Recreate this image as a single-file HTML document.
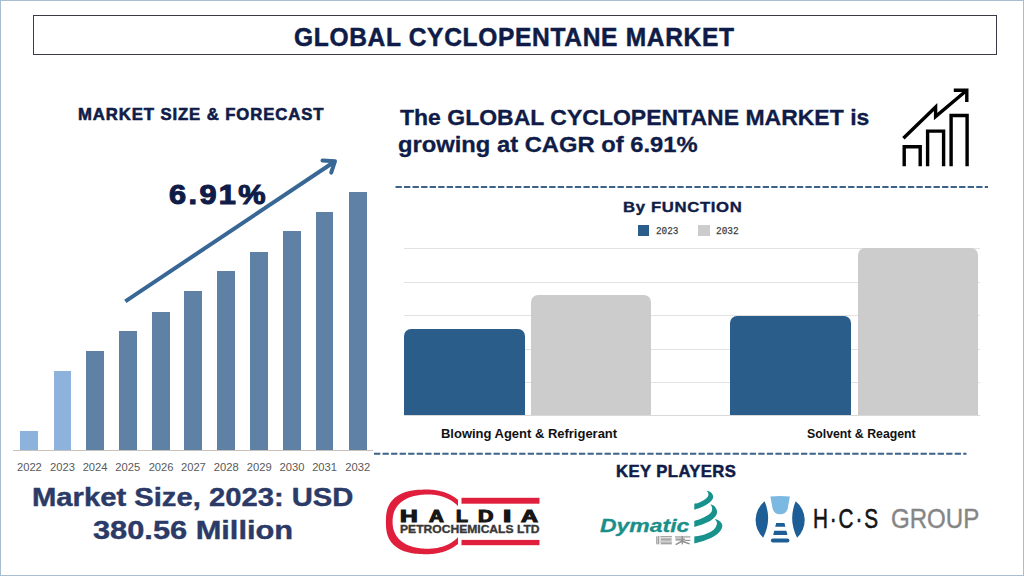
<!DOCTYPE html>
<html><head><meta charset="utf-8"><style>
html,body{margin:0;padding:0}
body{width:1024px;height:576px;position:relative;overflow:hidden;background:#fff;font-family:"Liberation Sans",sans-serif}
.frame{position:absolute;left:0;top:0;width:1022px;height:574px;border:1px solid #a9bdd0}
.tbox{position:absolute;left:33px;top:15px;width:962px;height:38px;border:1px solid #3a3b48}
.t{position:absolute;white-space:nowrap;transform-origin:0 0}
.bar{position:absolute}
.fbar{position:absolute;border-radius:7px 7px 0 0}
.yr{position:absolute;width:40px;text-align:center;font-size:11.2px;line-height:12px;color:#595959;font-family:"Liberation Sans",sans-serif}
.lg{position:absolute;font-family:"Liberation Mono",monospace;font-size:9px;line-height:12px;color:#444}
</style></head><body>
<div class="frame"></div>
<div class="tbox"></div>
<div class="bar" style="left:20.4px;top:430.8px;width:18.1px;height:19.7px;background:#8db3dc"></div>
<div class="bar" style="left:53.6px;top:370.9px;width:17.7px;height:79.6px;background:#8db3dc"></div>
<div class="bar" style="left:86.2px;top:350.9px;width:17.7px;height:99.6px;background:#5f81a6"></div>
<div class="bar" style="left:119.1px;top:331.2px;width:17.5px;height:119.3px;background:#5f81a6"></div>
<div class="bar" style="left:152.1px;top:311.5px;width:17.9px;height:139.0px;background:#5f81a6"></div>
<div class="bar" style="left:184.4px;top:291.1px;width:17.9px;height:159.4px;background:#5f81a6"></div>
<div class="bar" style="left:217.4px;top:271.4px;width:17.8px;height:179.1px;background:#5f81a6"></div>
<div class="bar" style="left:250.4px;top:251.9px;width:17.7px;height:198.6px;background:#5f81a6"></div>
<div class="bar" style="left:283.1px;top:231.4px;width:17.7px;height:219.1px;background:#5f81a6"></div>
<div class="bar" style="left:315.9px;top:211.7px;width:17.5px;height:238.8px;background:#5f81a6"></div>
<div class="bar" style="left:348.8px;top:191.7px;width:17.8px;height:258.8px;background:#5f81a6"></div>
<div style="position:absolute;left:13px;top:450px;width:360px;height:1px;background:#c9c2bc"></div>
<div class="yr" style="left:9.4px;top:461px;">2022</div>
<div class="yr" style="left:42.5px;top:461px;">2023</div>
<div class="yr" style="left:75.1px;top:461px;">2024</div>
<div class="yr" style="left:107.8px;top:461px;">2025</div>
<div class="yr" style="left:141.1px;top:461px;">2026</div>
<div class="yr" style="left:173.4px;top:461px;">2027</div>
<div class="yr" style="left:206.3px;top:461px;">2028</div>
<div class="yr" style="left:239.2px;top:461px;">2029</div>
<div class="yr" style="left:272.0px;top:461px;">2030</div>
<div class="yr" style="left:304.6px;top:461px;">2031</div>
<div class="yr" style="left:337.7px;top:461px;">2032</div>
<svg style="position:absolute;left:0;top:0" width="1024" height="576" viewBox="0 0 1024 576">
<g stroke="#386795" stroke-width="4" fill="none" stroke-linecap="butt" stroke-linejoin="miter">
<line x1="125.3" y1="301.4" x2="334" y2="162"/>
<polyline stroke-linecap="round" stroke-linejoin="round" points="322.5,160.6 335,161.2 331.2,172.6"/>
</g></svg>
<svg style="position:absolute;left:0;top:0" width="1024" height="576" viewBox="0 0 1024 576">
<g stroke="#000" stroke-width="3.4" fill="none" stroke-linejoin="miter">
<polyline points="904.2,166.3 904.2,146.7 920.2,146.7 920.2,166.3"/>
<polyline points="927.6,166.3 927.6,131.1 943.6,131.1 943.6,166.3"/>
<polyline points="951.1,166.3 951.1,115.5 967.1,115.5 967.1,166.3"/>
<polyline points="903.4,138.2 935.6,107 935.6,116.5 966.5,90.5"/>
<polyline points="953.8,90.2 966.8,90.2 966.8,102"/>
</g></svg>
<svg style="position:absolute;left:0;top:0" width="1024" height="576"><g stroke="#3d6289" stroke-width="2" stroke-dasharray="6.3 2.24"><line x1="395.5" y1="187" x2="988" y2="187"/><line x1="374" y1="453.8" x2="966.5" y2="453.8"/></g></svg>
<div style="position:absolute;left:403.6px;top:248.0px;width:576px;height:1px;background:#e2e2e2"></div>
<div style="position:absolute;left:403.6px;top:281.5px;width:576px;height:1px;background:#e2e2e2"></div>
<div style="position:absolute;left:403.6px;top:315.0px;width:576px;height:1px;background:#e2e2e2"></div>
<div style="position:absolute;left:403.6px;top:348.5px;width:576px;height:1px;background:#e2e2e2"></div>
<div style="position:absolute;left:403.6px;top:382.0px;width:576px;height:1px;background:#e2e2e2"></div>
<div style="position:absolute;left:403.6px;top:415px;width:576px;height:1px;background:#d9d9d9"></div>
<div class="fbar" style="left:403.7px;top:329.1px;width:121.1px;height:86.4px;background:#2b5d8b"></div>
<div class="fbar" style="left:531.3px;top:295.2px;width:120.2px;height:120.3px;background:#cccccc"></div>
<div class="fbar" style="left:730.4px;top:315.6px;width:120.6px;height:99.9px;background:#2b5d8b"></div>
<div class="fbar" style="left:858.0px;top:248.1px;width:120.3px;height:167.4px;background:#cccccc"></div>
<div style="position:absolute;left:638px;top:225px;width:11px;height:11px;background:#2b5d8b"></div>
<div style="position:absolute;left:698.3px;top:225px;width:11.3px;height:11px;background:#cccccc"></div>
<div id="t_title" class="t" style="left:294.22px;top:24.79px;font-family:'Liberation Sans';font-weight:700;font-style:normal;font-size:25px;line-height:25px;color:#101c48;transform:scaleX(0.9810);-webkit-text-stroke:0.5px #101c48;letter-spacing:0.7px;">GLOBAL CYCLOPENTANE MARKET</div>
<div id="t_msf" class="t" style="left:77.89px;top:106.05px;font-family:'Liberation Sans';font-weight:700;font-style:normal;font-size:16.5px;line-height:16.5px;color:#101c48;transform:scaleX(1.0116);-webkit-text-stroke:0.6px #101c48;letter-spacing:0.9px;">MARKET SIZE &amp; FORECAST</div>
<div id="t_cagr" class="t" style="left:169.10px;top:181.30px;font-family:'Liberation Sans';font-weight:700;font-style:normal;font-size:28px;line-height:28px;color:#101c48;transform:scaleX(1.0955);-webkit-text-stroke:1.1px #101c48;letter-spacing:2.2px;">6.91%</div>
<div id="t_ms1" class="t" style="left:32.25px;top:484.77px;font-family:'Liberation Sans';font-weight:700;font-style:normal;font-size:25.5px;line-height:25.5px;color:#2b3a67;transform:scaleX(1.1452);-webkit-text-stroke:0.4px #2b3a67;">Market Size, 2023: USD</div>
<div id="t_ms2" class="t" style="left:93.18px;top:518.21px;font-family:'Liberation Sans';font-weight:700;font-style:normal;font-size:25.2px;line-height:25.2px;color:#2b3a67;transform:scaleX(1.2216);-webkit-text-stroke:0.4px #2b3a67;">380.56 Million</div>
<div id="t_h1" class="t" style="left:399.60px;top:106.98px;font-family:'Liberation Sans';font-weight:700;font-style:normal;font-size:21.2px;line-height:21.2px;color:#101c48;transform:scaleX(1.0854);-webkit-text-stroke:0.3px #101c48;">The GLOBAL CYCLOPENTANE MARKET is</div>
<div id="t_h2" class="t" style="left:398.48px;top:134.38px;font-family:'Liberation Sans';font-weight:700;font-style:normal;font-size:21.2px;line-height:21.2px;color:#101c48;transform:scaleX(1.1214);-webkit-text-stroke:0.3px #101c48;">growing at CAGR of 6.91%</div>
<div id="t_byf" class="t" style="left:623.21px;top:199.39px;font-family:'Liberation Sans';font-weight:700;font-style:normal;font-size:15.4px;line-height:15.4px;color:#101c48;transform:scaleX(1.0852);-webkit-text-stroke:0.4px #101c48;letter-spacing:0.6px;">By FUNCTION</div>
<div id="t_kp" class="t" style="left:615.59px;top:462.90px;font-family:'Liberation Sans';font-weight:700;font-style:normal;font-size:16.5px;line-height:16.5px;color:#101c48;transform:scaleX(1.0111);-webkit-text-stroke:0.5px #101c48;letter-spacing:0.4px;">KEY PLAYERS</div>
<div id="t_lab1" class="t" style="left:440.96px;top:427.97px;font-family:'Liberation Sans';font-weight:700;font-style:normal;font-size:12.5px;line-height:12.5px;color:#111111;transform:scaleX(1.0379);">Blowing Agent &amp; Refrigerant</div>
<div id="t_lab2" class="t" style="left:806.72px;top:427.97px;font-family:'Liberation Sans';font-weight:700;font-style:normal;font-size:12.5px;line-height:12.5px;color:#111111;transform:scaleX(0.9844);">Solvent &amp; Reagent</div>
<div id="hal_H" class="t" style="left:399.59px;top:507.54px;font-family:'Liberation Sans';font-weight:700;font-style:normal;font-size:16.2px;line-height:16.2px;color:#161616;transform:scaleX(1.5100);-webkit-text-stroke:1.1px #161616;">H</div>
<div id="hal_A1" class="t" style="left:428.50px;top:507.54px;font-family:'Liberation Sans';font-weight:700;font-style:normal;font-size:16.2px;line-height:16.2px;color:#161616;transform:scaleX(1.2667);-webkit-text-stroke:1.1px #161616;">A</div>
<div id="hal_L" class="t" style="left:455.50px;top:507.54px;font-family:'Liberation Sans';font-weight:700;font-style:normal;font-size:16.2px;line-height:16.2px;color:#161616;transform:scaleX(1.2000);-webkit-text-stroke:1.1px #161616;">L</div>
<div id="hal_D" class="t" style="left:478.48px;top:507.54px;font-family:'Liberation Sans';font-weight:700;font-style:normal;font-size:16.2px;line-height:16.2px;color:#161616;transform:scaleX(1.3182);-webkit-text-stroke:1.1px #161616;">D</div>
<div id="hal_I" class="t" style="left:502.87px;top:507.54px;font-family:'Liberation Sans';font-weight:700;font-style:normal;font-size:16.2px;line-height:16.2px;color:#161616;transform:scaleX(1.8333);-webkit-text-stroke:1.1px #161616;">I</div>
<div id="hal_A2" class="t" style="left:521.00px;top:507.54px;font-family:'Liberation Sans';font-weight:700;font-style:normal;font-size:16.2px;line-height:16.2px;color:#161616;transform:scaleX(1.4500);-webkit-text-stroke:1.1px #161616;">A</div>
<div id="hal_pc" class="t" style="left:399.93px;top:523.70px;font-family:'Liberation Sans';font-weight:700;font-style:normal;font-size:11.3px;line-height:11.3px;color:#383838;transform:scaleX(1.0705);-webkit-text-stroke:0.35px #383838;">PETROCHEMICALS LTD</div>
<div id="dym" class="t" style="left:599.90px;top:515.97px;font-family:'Liberation Sans';font-weight:700;font-style:italic;font-size:19px;line-height:19px;color:#1a8f8a;transform:scaleX(1.2081);-webkit-text-stroke:0.3px #1a8f8a;">Dymatic</div>
<div id="hcs" class="t" style="left:813.22px;top:505.25px;font-family:'Liberation Sans';font-weight:400;font-style:normal;font-size:28px;line-height:28px;color:#141414;transform:scaleX(0.7400);-webkit-text-stroke:0.6px #141414;letter-spacing:2.5px;">H&#183;C&#183;S</div>
<div id="grp" class="t" style="left:891.44px;top:504.85px;font-family:'Liberation Sans';font-weight:400;font-style:normal;font-size:28px;line-height:28px;color:#858585;transform:scaleX(0.8600);-webkit-text-stroke:0.4px #858585;">GROUP</div>
<div id="lg1" class="t" style="left:655.75px;top:226.13px;font-family:'Liberation Mono';font-weight:400;font-style:normal;font-size:11px;line-height:11px;color:#3c3c3c;transform:scaleX(0.8520);-webkit-text-stroke:0.25px #3c3c3c;">2023</div>
<div id="lg2" class="t" style="left:716.24px;top:226.13px;font-family:'Liberation Mono';font-weight:400;font-style:normal;font-size:11px;line-height:11px;color:#3c3c3c;transform:scaleX(0.8600);-webkit-text-stroke:0.25px #3c3c3c;">2032</div>
<svg style="position:absolute;left:0;top:0" width="1024" height="576" viewBox="0 0 1024 576"><defs><clipPath id="hc"><rect x="380" y="480" width="78" height="80"/></clipPath></defs><path clip-path="url(#hc)" fill-rule="evenodd" fill="#e01f3c" d="M469.20,521.85 L469.17,523.12 L469.07,524.38 L468.91,525.65 L468.69,526.90 L468.40,528.15 L468.05,529.39 L467.64,530.62 L467.16,531.83 L466.63,533.03 L466.03,534.21 L465.38,535.37 L464.67,536.51 L463.90,537.63 L463.07,538.73 L462.19,539.79 L461.26,540.84 L460.27,541.85 L459.23,542.83 L458.15,543.78 L457.02,544.69 L455.84,545.57 L454.62,546.41 L453.35,547.22 L452.05,547.98 L450.71,548.71 L449.34,549.39 L447.93,550.03 L446.49,550.63 L445.02,551.18 L443.52,551.69 L442.00,552.15 L440.46,552.57 L438.89,552.94 L437.31,553.26 L435.72,553.53 L434.11,553.75 L432.49,553.93 L430.86,554.05 L429.23,554.13 L427.60,554.15 L424.14,554.13 L421.71,554.07 L419.57,553.98 L417.59,553.84 L415.74,553.67 L413.98,553.46 L412.31,553.21 L410.70,552.93 L409.16,552.60 L407.68,552.24 L406.26,551.84 L404.88,551.41 L403.56,550.93 L402.29,550.42 L401.07,549.88 L399.89,549.29 L398.76,548.67 L397.68,548.01 L396.65,547.32 L395.66,546.59 L394.72,545.83 L393.82,545.02 L392.97,544.19 L392.17,543.31 L391.42,542.40 L390.71,541.45 L390.05,540.47 L389.44,539.45 L388.88,538.38 L388.36,537.28 L387.90,536.13 L387.48,534.94 L387.11,533.70 L386.79,532.40 L386.52,531.04 L386.30,529.60 L386.12,528.07 L386.00,526.41 L385.92,524.53 L385.90,521.85 L385.92,519.17 L386.00,517.29 L386.12,515.63 L386.30,514.10 L386.52,512.66 L386.79,511.30 L387.11,510.00 L387.48,508.76 L387.90,507.57 L388.36,506.42 L388.88,505.32 L389.44,504.25 L390.05,503.23 L390.71,502.25 L391.42,501.30 L392.17,500.39 L392.97,499.51 L393.82,498.68 L394.72,497.87 L395.66,497.11 L396.65,496.38 L397.68,495.69 L398.76,495.03 L399.89,494.41 L401.07,493.82 L402.29,493.28 L403.56,492.77 L404.88,492.29 L406.26,491.86 L407.68,491.46 L409.16,491.10 L410.70,490.77 L412.31,490.49 L413.98,490.24 L415.74,490.03 L417.59,489.86 L419.57,489.72 L421.71,489.63 L424.14,489.57 L427.60,489.55 L429.23,489.57 L430.86,489.65 L432.49,489.77 L434.11,489.95 L435.72,490.17 L437.31,490.44 L438.89,490.76 L440.46,491.13 L442.00,491.55 L443.52,492.01 L445.02,492.52 L446.49,493.07 L447.93,493.67 L449.34,494.31 L450.71,494.99 L452.05,495.72 L453.35,496.48 L454.62,497.29 L455.84,498.13 L457.02,499.01 L458.15,499.92 L459.23,500.87 L460.27,501.85 L461.26,502.86 L462.19,503.91 L463.07,504.97 L463.90,506.07 L464.67,507.19 L465.38,508.33 L466.03,509.49 L466.63,510.67 L467.16,511.87 L467.64,513.08 L468.05,514.31 L468.40,515.55 L468.69,516.80 L468.91,518.05 L469.07,519.32 L469.17,520.58 Z M464.50,521.60 L464.47,522.66 L464.39,523.73 L464.25,524.79 L464.06,525.84 L463.81,526.89 L463.51,527.93 L463.15,528.96 L462.74,529.97 L462.27,530.98 L461.76,531.97 L461.19,532.95 L460.58,533.90 L459.91,534.84 L459.20,535.76 L458.43,536.66 L457.62,537.53 L456.77,538.38 L455.87,539.20 L454.94,540.00 L453.96,540.76 L452.94,541.50 L451.88,542.21 L450.79,542.88 L449.66,543.52 L448.50,544.13 L447.31,544.71 L446.09,545.24 L444.84,545.75 L443.57,546.21 L442.28,546.64 L440.96,547.02 L439.62,547.37 L438.27,547.68 L436.90,547.95 L435.52,548.18 L434.13,548.37 L432.73,548.51 L431.32,548.62 L429.91,548.68 L428.50,548.70 L426.35,548.68 L424.57,548.63 L422.92,548.54 L421.35,548.41 L419.83,548.25 L418.37,548.05 L416.95,547.81 L415.57,547.54 L414.23,547.24 L412.93,546.90 L411.66,546.52 L410.43,546.11 L409.24,545.67 L408.08,545.19 L406.97,544.68 L405.88,544.14 L404.84,543.56 L403.83,542.96 L402.87,542.32 L401.94,541.65 L401.05,540.95 L400.21,540.22 L399.40,539.46 L398.64,538.67 L397.92,537.86 L397.25,537.01 L396.62,536.14 L396.03,535.24 L395.49,534.31 L394.99,533.35 L394.54,532.37 L394.13,531.36 L393.77,530.32 L393.46,529.25 L393.20,528.14 L392.98,527.00 L392.82,525.81 L392.70,524.56 L392.62,523.22 L392.60,521.60 L392.62,519.98 L392.70,518.64 L392.82,517.39 L392.98,516.20 L393.20,515.06 L393.46,513.95 L393.77,512.88 L394.13,511.84 L394.54,510.83 L394.99,509.85 L395.49,508.89 L396.03,507.96 L396.62,507.06 L397.25,506.19 L397.92,505.34 L398.64,504.53 L399.40,503.74 L400.21,502.98 L401.05,502.25 L401.94,501.55 L402.87,500.88 L403.83,500.24 L404.84,499.64 L405.88,499.06 L406.97,498.52 L408.08,498.01 L409.24,497.53 L410.43,497.09 L411.66,496.68 L412.93,496.30 L414.23,495.96 L415.57,495.66 L416.95,495.39 L418.37,495.15 L419.83,494.95 L421.35,494.79 L422.92,494.66 L424.57,494.57 L426.35,494.52 L428.50,494.50 L429.91,494.52 L431.32,494.58 L432.73,494.69 L434.13,494.83 L435.52,495.02 L436.90,495.25 L438.27,495.52 L439.62,495.83 L440.96,496.18 L442.28,496.56 L443.57,496.99 L444.84,497.45 L446.09,497.96 L447.31,498.49 L448.50,499.07 L449.66,499.68 L450.79,500.32 L451.88,500.99 L452.94,501.70 L453.96,502.44 L454.94,503.20 L455.87,504.00 L456.77,504.82 L457.62,505.67 L458.43,506.54 L459.20,507.44 L459.91,508.36 L460.58,509.30 L461.19,510.25 L461.76,511.23 L462.27,512.22 L462.74,513.23 L463.15,514.24 L463.51,515.27 L463.81,516.31 L464.06,517.36 L464.25,518.41 L464.39,519.47 L464.47,520.54 Z"/><rect x="461.5" y="497.8" width="78" height="5.9" fill="#e01f3c"/><rect x="461.5" y="539.9" width="78" height="5.3" fill="#e01f3c"/><path fill="#17928c" d="M694.30,509.70 C695.38,509.33 698.65,508.40 700.80,507.50 C702.95,506.60 705.33,505.55 707.20,504.30 C709.07,503.05 711.02,501.35 712.00,500.00 C712.98,498.65 713.27,497.45 713.10,496.20 C712.93,494.95 712.07,493.40 711.00,492.50 C709.93,491.60 707.42,491.08 706.70,490.80 C706.97,491.25 708.13,492.50 708.30,493.50 C708.47,494.50 708.42,495.72 707.70,496.80 C706.98,497.88 705.52,499.02 704.00,500.00 C702.48,500.98 700.22,502.08 698.60,502.70 C696.98,503.32 695.02,503.53 694.30,503.70 Z"/><path fill="#17928c" d="M694.30,526.90 C695.73,526.45 700.03,525.37 702.90,524.20 C705.77,523.03 709.27,521.43 711.50,519.90 C713.73,518.37 715.40,516.53 716.30,515.00 C717.20,513.47 717.17,512.13 716.90,510.70 C716.63,509.27 715.78,507.47 714.70,506.40 C713.62,505.33 711.12,504.65 710.40,504.30 C710.67,504.83 711.82,506.25 712.00,507.50 C712.18,508.75 712.30,510.45 711.50,511.80 C710.70,513.15 708.98,514.43 707.20,515.60 C705.42,516.77 702.95,517.90 700.80,518.80 C698.65,519.70 695.38,520.63 694.30,521.00 Z"/><path fill="#17928c" d="M694.30,543.50 C695.92,543.05 700.77,541.97 704.00,540.80 C707.23,539.63 711.02,538.10 713.70,536.50 C716.38,534.90 718.67,532.98 720.10,531.20 C721.53,529.42 722.30,527.42 722.30,525.80 C722.30,524.18 721.37,522.67 720.10,521.50 C718.83,520.33 715.60,519.25 714.70,518.80 C715.07,519.43 716.72,521.25 716.90,522.60 C717.08,523.95 716.70,525.47 715.80,526.90 C714.90,528.33 713.65,529.87 711.50,531.20 C709.35,532.53 705.77,534.02 702.90,534.90 C700.03,535.78 695.73,536.23 694.30,536.50 Z"/><path fill="#1c5e95" d="M764.6,501.2 A24.3,24.3 0 0,0 763.2,537.7 A43.6,43.6 0 0,0 764.6,501.2 Z"/><path fill="#1c5e95" d="M795.7,501.2 A24.3,24.3 0 0,1 797.1,537.7 A43.6,43.6 0 0,1 795.7,501.2 Z"/><path fill="#7bb8e2" d="M770.4,496.6 Q780.1,495.6 789.9,496.6 L787.7,508.5 Q786.3,514.3 780.1,514.3 Q773.9,514.3 772.6,508.5 Z"/><path fill="#1c5e95" d="M776.2,523.1 L784.4,523.1 L785.4,526.8 L775.2,526.8 Z"/><path fill="#1c5e95" d="M774.2,530.8 L786.4,530.8 L787.4,534.9 L773.2,534.9 Z"/><rect x="770.9" y="538.6" width="18.5" height="3.9" rx="1.9" fill="#1c5e95"/><g fill="#8d8d8d"><rect x="656.3" y="536.3" width="1.2" height="8"/><rect x="658.2" y="536.0" width="1.1" height="8.4"/><rect x="660.3" y="536.2" width="11.6" height="1.1"/><rect x="660.6" y="538.2" width="11" height="2.6" fill-opacity="0.75"/><rect x="660.3" y="541.6" width="11.6" height="1"/><rect x="660.8" y="543.2" width="11" height="1.1"/><rect x="675.0" y="536.4" width="15.4" height="1.1"/><rect x="675.5" y="538.3" width="9.5" height="2.4" fill-opacity="0.8"/><rect x="681.6" y="536" width="1.3" height="8.4"/><path d="M675,544.2 L681.5,540.5 L682.8,541.6 L676.5,545 Z"/><path d="M683,540.8 L689.8,543.3 L689.5,544.6 L682.4,542.2 Z"/><rect x="684.8" y="539.8" width="5.6" height="1.1"/></g></svg>
</body></html>
